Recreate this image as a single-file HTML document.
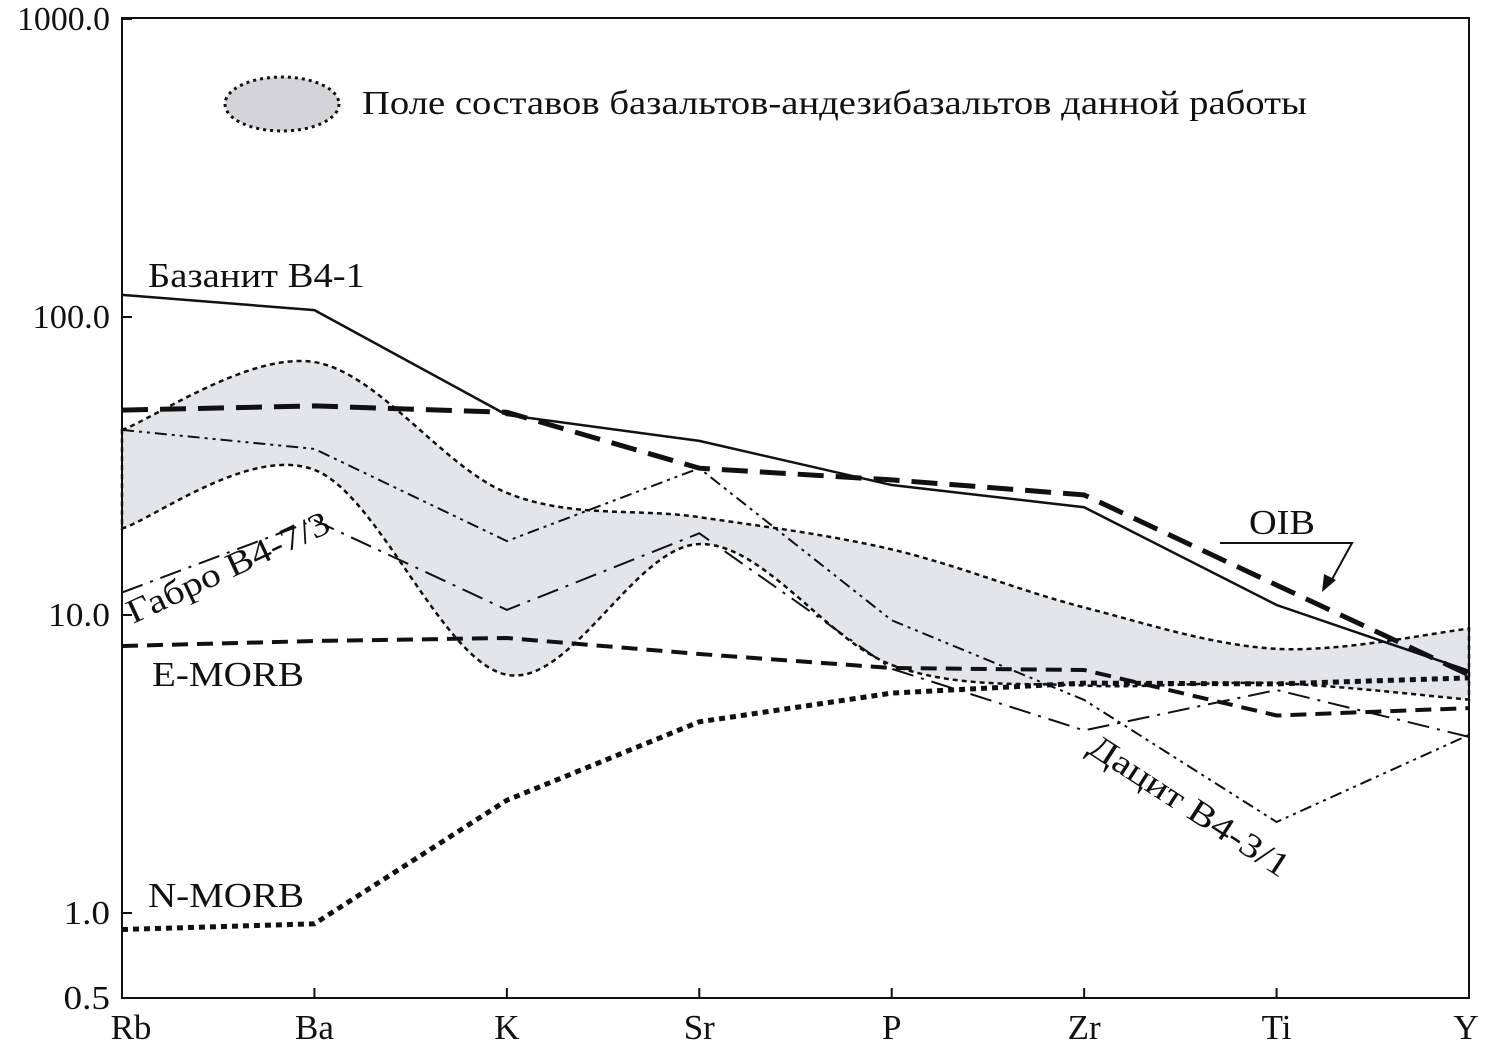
<!DOCTYPE html>
<html><head><meta charset="utf-8"><style>
html,body{margin:0;padding:0;background:#fff}
svg text{font-family:"Liberation Serif","DejaVu Serif",serif;fill:#111}
</style></head><body>
<svg id="chart" width="1497" height="1049" viewBox="0 0 1497 1049" xmlns="http://www.w3.org/2000/svg">
<g id="field"></g>
<g id="lines"></g>
<rect x="122" y="18" width="1347" height="980" fill="none" stroke="#111" stroke-width="2"/>
<g id="axes"></g>
<g>
<ellipse cx="282" cy="104" rx="57" ry="27" fill="#d4d4d6" stroke="#111" stroke-width="3" stroke-dasharray="3,4"/>
<text x="362" y="114" font-size="34" textLength="945" lengthAdjust="spacingAndGlyphs">Поле составов базальтов-андезибазальтов данной работы</text>
</g>
<text x="148" y="287" font-size="35" textLength="217" lengthAdjust="spacingAndGlyphs">Базанит B4-1</text>
<text x="1249" y="534" font-size="35" textLength="66" lengthAdjust="spacingAndGlyphs">OIB</text>
<path d="M1220 543 L1352 543 L1330 583" fill="none" stroke="#111" stroke-width="2"/>
<path d="M1322 592 L1324 574 L1336 580 Z" fill="#111"/>
<text transform="translate(133,624) rotate(-25)" font-size="34" textLength="220" lengthAdjust="spacingAndGlyphs">Габро B4-7/3</text>
<text x="152" y="686" font-size="35" textLength="152" lengthAdjust="spacingAndGlyphs">E-MORB</text>
<text x="148" y="907" font-size="35" textLength="156" lengthAdjust="spacingAndGlyphs">N-MORB</text>
<text transform="translate(1086,752) rotate(33)" font-size="34" textLength="232" lengthAdjust="spacingAndGlyphs">Дацит B4-3/1</text>
</svg>
<script>
const categories=["Rb","Ba","K","Sr","P","Zr","Ti","Y"];
const yTicks=[1000,100,10,1,0.5];
const yTickLabels=["1000.0","100.0","10.0","1.0","0.5"];
const bazanite=[118.6,105.5,46.9,38.4,27.3,23.0,10.8,6.5];
const oib=[48.7,50.3,47.9,31.1,28.4,25.3,12.6,6.3];
const emorb=[7.87,8.18,8.37,7.4,6.64,6.54,4.6,4.87];
const nmorb=[0.88,0.92,2.39,4.38,5.47,5.91,5.87,6.15];
const gabbro=[11.9,20.8,10.4,18.8,6.6,4.1,5.6,3.9];
const dacite=[41.8,36.1,17.7,31.1,9.6,5.19,2.02,3.96];
const fieldUpper=[41.8,70.6,25.7,21.3,16.6,10.6,7.7,9.0];
const fieldLower=[19.5,30.7,6.3,17.3,6.8,5.8,5.9,5.2];

const NS="http://www.w3.org/2000/svg";
const x0=122,x1=1469;
function xPos(i){return x0+i*(x1-x0)/(categories.length-1);}
function yPos(v){return 913-298*Math.log10(v);}
function pts(arr){return arr.map((v,i)=>[xPos(i),yPos(v)]);}
function poly(p){return "M"+p.map(q=>q[0].toFixed(1)+" "+q[1].toFixed(1)).join(" L");}
function smooth(p,start){let d=start?("M"+p[0][0]+" "+p[0][1]):"";
 for(let i=0;i<p.length-1;i++){const a=p[Math.max(i-1,0)],b=p[i],c=p[i+1],e=p[Math.min(i+2,p.length-1)];
 d+=" C"+(b[0]+(c[0]-a[0])/6)+" "+(b[1]+(c[1]-a[1])/6)+" "+(c[0]-(e[0]-b[0])/6)+" "+(c[1]-(e[1]-b[1])/6)+" "+c[0]+" "+c[1];}
 return d;}

const field=document.getElementById('field');
const up=pts(fieldUpper), lo=pts(fieldLower).reverse();
const fp=document.createElementNS(NS,'path');
fp.setAttribute('d',smooth(up,true)+" L"+lo[0][0]+" "+lo[0][1]+smooth(lo,false)+" Z");
fp.setAttribute('fill','#e4e5e8');fp.setAttribute('stroke','#111');fp.setAttribute('stroke-width','2.5');fp.setAttribute('stroke-dasharray','5,4');


field.appendChild(fp);

const lines=document.getElementById('lines');
const series=[
 [bazanite,'series-bazanite','2.5',''],
 [oib,'series-oib','5','26,12'],
 [emorb,'series-emorb','4','16,9'],
 [nmorb,'series-nmorb','5','6,5'],
 [gabbro,'series-gabbro','2','22,8,3,8'],
 [dacite,'series-dacite','2','12,5,3,5,3,5']];
series.forEach(s=>{const p=document.createElementNS(NS,'path');
 p.setAttribute('d',poly(pts(s[0])));p.setAttribute('fill','none');p.setAttribute('stroke','#111');
 p.setAttribute('stroke-width',s[2]);if(s[3])p.setAttribute('stroke-dasharray',s[3]);
 
 
 lines.appendChild(p);});

const axes=document.getElementById('axes');
yTicks.forEach((v,i)=>{const y=v===0.5?998:yPos(v);
 const t=document.createElementNS(NS,'line');t.setAttribute('x1',122);t.setAttribute('x2',132);t.setAttribute('y1',y);t.setAttribute('y2',y);t.setAttribute('stroke','#111');t.setAttribute('stroke-width','2');
 
 
 axes.appendChild(t);
 const l=document.createElementNS(NS,'text');l.setAttribute('x',110);l.setAttribute('y',y+11);l.setAttribute('text-anchor','end');l.setAttribute('font-size','34');
 l.setAttribute('textLength',String(yTickLabels[i].length*15.5));l.setAttribute('lengthAdjust','spacingAndGlyphs');
 l.textContent=yTickLabels[i];
 
 
 axes.appendChild(l);});
categories.forEach((c,i)=>{const x=xPos(i);
 const t=document.createElementNS(NS,'line');t.setAttribute('x1',x);t.setAttribute('x2',x);t.setAttribute('y1',988);t.setAttribute('y2',998);t.setAttribute('stroke','#111');t.setAttribute('stroke-width','2');
 
 
 axes.appendChild(t);
 const l=document.createElementNS(NS,'text');l.setAttribute('x',i===0?131:(i===7?1466:x));l.setAttribute('y',1039);l.setAttribute('text-anchor','middle');l.setAttribute('font-size','35');l.textContent=c;
 
 
 axes.appendChild(l);});
</script>
</body></html>
